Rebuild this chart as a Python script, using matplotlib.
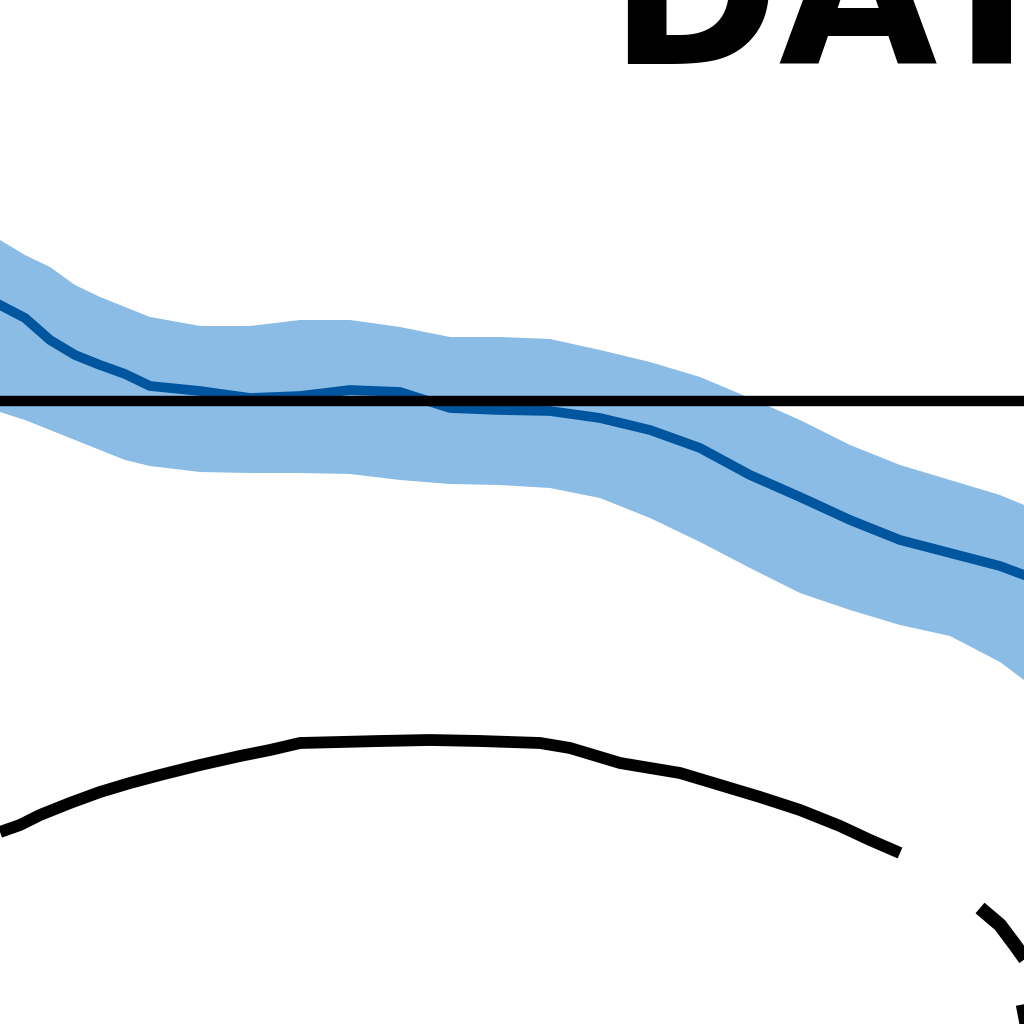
import matplotlib
matplotlib.use("Agg")
import matplotlib.pyplot as plt
import numpy as np

# ---- data (zoomed-in region of a larger chart) ----
x = [0, 0.25, 0.5, 0.75, 1.0, 1.25, 1.5, 2.0, 2.5, 3.0, 3.5, 4.0, 4.5, 5.0,
     5.5, 6.0, 6.5, 7.0, 7.5, 8.0, 8.5, 9.0, 9.5, 10.0, 10.24]
center = [0.96, 0.83, 0.61, 0.46, 0.36, 0.27, 0.15, 0.10, 0.03, 0.05, 0.11,
          0.09, -0.07, -0.09, -0.10, -0.17, -0.29, -0.47, -0.74, -0.96,
          -1.19, -1.39, -1.52, -1.65, -1.74]
upper = [1.61, 1.46, 1.34, 1.16, 1.04, 0.94, 0.84, 0.75, 0.75, 0.81, 0.81,
         0.74, 0.64, 0.64, 0.62, 0.51, 0.39, 0.24, 0.03, -0.19, -0.44,
         -0.64, -0.79, -0.94, -1.04]
lower = [-0.11, -0.19, -0.29, -0.39, -0.49, -0.59, -0.65, -0.71, -0.72,
         -0.72, -0.73, -0.79, -0.83, -0.84, -0.87, -0.97, -1.17, -1.41,
         -1.67, -1.92, -2.09, -2.24, -2.35, -2.61, -2.79]
ref_level = 0.0

arc_x = [0, 0.2, 0.4, 0.7, 1.0, 1.3, 1.6, 2.0, 2.4, 2.7, 3.0, 3.8, 4.3, 4.8,
         5.4, 5.7, 6.2, 6.8, 7.2, 7.6, 8.0, 8.4, 8.7, 9.0]
arc_y = [-4.31, -4.24, -4.14, -4.02, -3.91, -3.82, -3.74, -3.64, -3.55,
         -3.49, -3.42, -3.40, -3.39, -3.40, -3.42, -3.47, -3.62, -3.72,
         -3.84, -3.96, -4.09, -4.25, -4.39, -4.52]
seg_x = [9.8, 10.0, 10.15, 10.3]
seg_y = [-5.07, -5.24, -5.44, -5.65]
seg2_x = [10.2, 10.24]
seg2_y = [-6.04, -6.25]

title = "DATA"

# ---- figure ----
fig = plt.figure(figsize=(10.24, 10.24), dpi=100)
ax = fig.add_axes([0, 0, 1, 1])
ax.set_xlim(0, 10.24)
ax.set_ylim(-6.23, 4.01)
ax.axis("off")

ax.fill_between(x, lower, upper, color="#8ABCE6", linewidth=0, zorder=1)
ax.plot(x, center, color="#00559F", linewidth=7, zorder=2)
ax.axhline(ref_level, color="black", linewidth=7.5, zorder=3)
ax.plot(arc_x, arc_y, color="black", linewidth=8.5, solid_capstyle="butt")
ax.plot(seg_x, seg_y, color="black", linewidth=10, solid_capstyle="butt")
ax.plot(seg2_x, seg2_y, color="black", linewidth=6, solid_capstyle="butt")

ax.text(6.08, 3.37, title, fontsize=148, fontweight="bold", color="black",
        ha="left", va="baseline", family="DejaVu Sans")

fig.savefig("out.png", dpi=100)
